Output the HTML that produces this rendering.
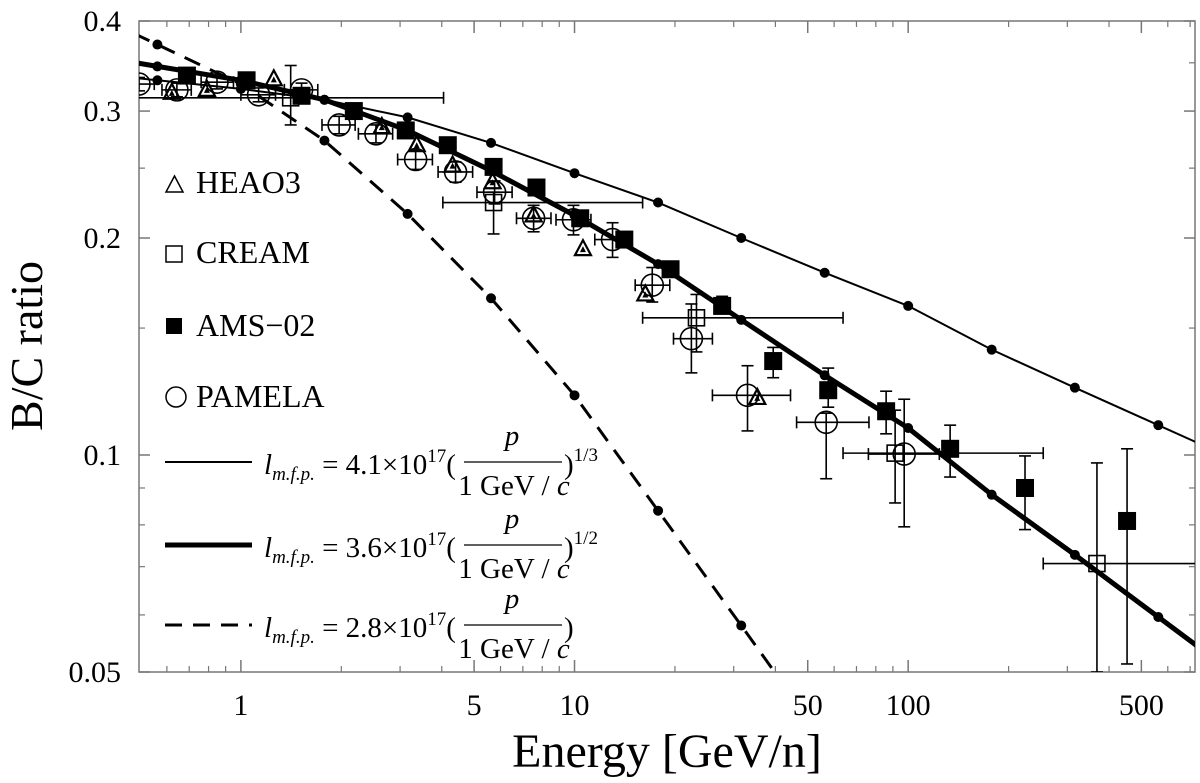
<!DOCTYPE html>
<html><head><meta charset="utf-8">
<style>
html,body{margin:0;padding:0;background:#fff;overflow:hidden;width:1200px;height:783px;}
svg{display:block;font-family:"Liberation Serif",serif;}
</style></head>
<body>
<svg id="chart" width="1200" height="783" viewBox="0 0 1200 783" xmlns="http://www.w3.org/2000/svg">
<defs><clipPath id="plotclip"><rect x="139" y="21" width="1056" height="651"/></clipPath></defs>
<rect x="139" y="21" width="1056" height="651" fill="none" stroke="#777" stroke-width="1.5"/>
<g id="ticks"></g>
<g id="curves" clip-path="url(#plotclip)"></g>
<g id="points" clip-path="url(#plotclip)"></g>
<g id="labels" font-size="30"></g>
<text x="667" y="767" font-size="48" text-anchor="middle">Energy [GeV/n]</text>
<text transform="translate(42,346) rotate(-90)" font-size="46" text-anchor="middle">B/C ratio</text>
<g font-size="32">
 <g>
  <polygon points="166,192 183,192 174.5,176" fill="none" stroke="#000" stroke-width="1.5"/>
  <text x="196" y="193">HEAO3</text></g>
 <g>
  <rect x="166" y="246" width="16" height="16" fill="none" stroke="#000" stroke-width="1.5"/>
  <text x="196" y="263">CREAM</text></g>
 <g>
  <rect x="166" y="318" width="16" height="16" fill="#000"/>
  <text x="196" y="336">AMS−02</text></g>
 <g>
  <circle cx="176" cy="397" r="10" fill="none" stroke="#000" stroke-width="1.5"/>
  <text x="196" y="407">PAMELA</text></g>
</g>
<g id="formulas"></g>
</svg>
<script>
// axis ranges
const xMin=0.495, xMax=724, yMin=0.05, yMax=0.4;
const L=139,R=1195,T=21,B=672;
// model curves sampled at E = 10^(k/4), k=-1..11
const modelEnergy=[0.562,1,1.78,3.16,5.62,10,17.8,31.6,56.2,100,178,316,562];
const curveThin=[0.331,0.322,0.311,0.294,0.271,0.246,0.224,0.200,0.179,0.161,0.140,0.124,0.110];
const curveThick=[0.346,0.331,0.311,0.282,0.248,0.215,0.184,0.154,0.129,0.109,0.0881,0.0727,0.0596];
const curveDashed=[0.371,0.327,0.273,0.216,0.165,0.121,0.0837,0.058,0.040,0.028,0.02,0.015,0.011];
// AMS-02
const amsE=[0.689,1.04,1.52,2.18,3.12,4.17,5.72,7.69,10.4,14.1,19.4,27.7,39.4,57.6,85.9,133.6,224,453];
const amsV=[0.336,0.331,0.315,0.300,0.282,0.269,0.251,0.235,0.213,0.199,0.181,0.161,0.135,0.123,0.115,0.102,0.090,0.081];
const amsLo=[0.331,0.326,0.310,0.295,0.277,0.264,0.246,0.230,0.209,0.195,0.177,0.157,0.128,0.1165,0.107,0.0932,0.0788,0.0513];
const amsHi=[0.341,0.336,0.320,0.305,0.287,0.274,0.256,0.240,0.217,0.203,0.185,0.166,0.141,0.132,0.1226,0.110,0.0997,0.102];
// HEAO3
const heaoE=[0.621,0.791,1.255,2.645,3.365,4.31,5.68,7.54,10.6,16.3,35.3];
const heaoV=[0.318,0.321,0.332,0.285,0.269,0.252,0.239,0.215,0.193,0.167,0.120];
// CREAM
const creamE=[1.41,5.72,23.2,91.4,368];
const creamV=[0.313,0.224,0.155,0.1006,0.0707];
const creamLo=[0.287,0.2026,0.139,0.0858,0.05];
const creamHi=[0.347,0.2315,0.167,0.1154,0.0975];
const creamELo=[0.45,4.03,16.0,63.8,254];
const creamEHi=[4.05,16.0,63.8,254,800];
// PAMELA
const pamE=[0.495,0.643,0.848,1.13,1.52,1.97,2.54,3.34,4.40,5.76,7.54,9.93,13.0,17.1,22.4,33.0,56.8,97.3];
const pamV=[0.327,0.321,0.329,0.316,0.321,0.287,0.279,0.257,0.247,0.2315,0.213,0.212,0.199,0.172,0.145,0.121,0.111,0.1003];
const pamLo=[0.320,0.314,0.322,0.309,0.314,0.279,0.271,0.249,0.239,0.223,0.204,0.202,0.188,0.163,0.130,0.108,0.0927,0.0795];
const pamHi=[0.334,0.328,0.336,0.323,0.328,0.295,0.287,0.265,0.255,0.240,0.222,0.222,0.210,0.182,0.162,0.133,0.1143,0.1195];
const pamELo=[0.44,0.58,0.76,1.0,1.35,1.75,2.25,2.95,3.9,5.1,6.7,8.8,11.5,15.2,19.8,25.9,46.3,76];
const pamEHi=[0.55,0.71,0.95,1.27,1.7,2.2,2.85,3.75,4.95,6.5,8.5,11.2,14.7,19.3,25.9,44.4,76.3,124];
// ticks
const yTickVals=[0.05,0.1,0.2,0.3,0.4];
const yTickLabels=["0.05","0.1","0.2","0.3","0.4"];
const yMinorVals=[0.06,0.07,0.08,0.09,0.15,0.25,0.35];
const xTickVals=[1,5,10,50,100,500];
const xTickLabels=["1","5","10","50","100","500"];
const xMinorVals=[0.6,0.7,0.8,0.9,2,3,4,6,7,8,9,20,30,40,60,70,80,90,200,300,400,600,700];

const NS="http://www.w3.org/2000/svg";
function X(e){return L+(R-L)*(Math.log10(e)-Math.log10(xMin))/(Math.log10(xMax)-Math.log10(xMin));}
function Y(v){return B-(B-T)*(Math.log10(v)-Math.log10(yMin))/(Math.log10(yMax)-Math.log10(yMin));}
function mk(tag,attrs,parent){const el=document.createElementNS(NS,tag);for(const k in attrs)el.setAttribute(k,attrs[k]);parent.appendChild(el);return el;}

const ticks=document.getElementById('ticks');
const labels=document.getElementById('labels');
yTickVals.forEach((v,i)=>{
  const y=Y(v);
  const t1=mk('line',{x1:L,x2:L+11,y1:y,y2:y,stroke:'#777','stroke-width':1.5},ticks);
  
  
  const t2=mk('line',{x1:R-11,x2:R,y1:y,y2:y,stroke:'#777','stroke-width':1.5},ticks);
  
  
  const tx=mk('text',{x:121,y:y+10,'text-anchor':'end'},labels);
  tx.textContent=yTickLabels[i];
  
  
});
yMinorVals.forEach(v=>{
  const y=Y(v);
  const t=mk('line',{x1:L,x2:L+6,y1:y,y2:y,stroke:'#777','stroke-width':1.2},ticks);
  
  
  const t2=mk('line',{x1:R-6,x2:R,y1:y,y2:y,stroke:'#777','stroke-width':1.2},ticks);
  
  
});
xTickVals.forEach((e,i)=>{
  const x=X(e);
  const t1=mk('line',{x1:x,x2:x,y1:B,y2:B-12,stroke:'#777','stroke-width':1.5},ticks);
  
  
  const t2=mk('line',{x1:x,x2:x,y1:T,y2:T+12,stroke:'#777','stroke-width':1.5},ticks);
  
  
  const tx=mk('text',{x:x,y:715,'text-anchor':'middle'},labels);
  tx.textContent=xTickLabels[i];
  
  
});
xMinorVals.forEach(e=>{
  const x=X(e);
  const t=mk('line',{x1:x,x2:x,y1:B,y2:B-6,stroke:'#777','stroke-width':1.2},ticks);
  
  
  const t2=mk('line',{x1:x,x2:x,y1:T,y2:T+6,stroke:'#777','stroke-width':1.2},ticks);
  
  
});

const curves=document.getElementById('curves');
function drawCurve(vals,width,dash,name){
  const pts=modelEnergy.map((e,i)=>[X(e),Y(vals[i])]);
  const a=pts[0],b=pts[1];const s=(b[1]-a[1])/(b[0]-a[0]);
  pts.unshift([L-5,a[1]+s*(L-5-a[0])]);
  const n=pts.length,c=pts[n-2],d=pts[n-1];const s2=(d[1]-c[1])/(d[0]-c[0]);
  pts.push([R+5,d[1]+s2*(R+5-d[0])]);
  const p=mk('polyline',{points:pts.map(q=>q.join(',')).join(' '),fill:'none',stroke:'#000','stroke-width':width,'stroke-dasharray':dash||'none'},curves);
  
  
  modelEnergy.forEach((e,i)=>{
    const c=mk('circle',{cx:X(e),cy:Y(vals[i]),r:5,fill:'#000'},curves);
    
    
  });
}
drawCurve(curveThin,2,null,'curve-one-third');
drawCurve(curveThick,5,null,'curve-one-half');
drawCurve(curveDashed,3,'17,11','curve-linear');

const pg=document.getElementById('points');
function vbar(x,y1,y2,name){
  const l=mk('line',{x1:x,x2:x,y1:y1,y2:y2,stroke:'#000','stroke-width':1.6},pg);
  
  
  [y1,y2].forEach(y=>{const c=mk('line',{x1:x-6,x2:x+6,y1:y,y2:y,stroke:'#000','stroke-width':1.6},pg);
    
    });
}
function hbar(y,x1,x2,name){
  const l=mk('line',{x1:x1,x2:x2,y1:y,y2:y,stroke:'#000','stroke-width':1.6},pg);
  
  
  [x1,x2].forEach(x=>{const c=mk('line',{x1:x,x2:x,y1:y-6,y2:y+6,stroke:'#000','stroke-width':1.6},pg);
    
    });
}
creamE.forEach((e,i)=>{
  const x=X(e),y=Y(creamV[i]);
  vbar(x,Y(creamHi[i]),Y(creamLo[i]),'cream-y-error');
  hbar(y,X(creamELo[i]),X(creamEHi[i]),'cream-x-error');
  const r=mk('rect',{x:x-8,y:y-8,width:16,height:16,fill:'none',stroke:'#000','stroke-width':1.6},pg);
  
  
});
pamE.forEach((e,i)=>{
  const x=X(e),y=Y(pamV[i]);
  vbar(x,Y(pamHi[i]),Y(pamLo[i]),'pamela-y-error');
  hbar(y,X(pamELo[i]),X(pamEHi[i]),'pamela-x-error');
  const c=mk('circle',{cx:x,cy:y,r:11,fill:'none',stroke:'#000','stroke-width':1.6},pg);
  
  
});
heaoE.forEach((e,i)=>{
  const x=X(e),y=Y(heaoV[i]);
  const t=mk('polygon',{points:`${x-8},${y+6} ${x+8},${y+6} ${x},${y-9}`,fill:'none',stroke:'#000','stroke-width':2.2},pg);
  
  
  const t2=mk('polygon',{points:`${x-3},${y+3} ${x+3},${y+3} ${x},${y-3}`,fill:'#000'},pg);
  
  
});
amsE.forEach((e,i)=>{
  const x=X(e),y=Y(amsV[i]);
  vbar(x,Y(amsHi[i]),Y(amsLo[i]),'ams02-y-error');
  const r=mk('rect',{x:x-9,y:y-9,width:18,height:18,fill:'#000'},pg);
  
  
});

const fg=document.getElementById('formulas');
const rows=[{y:462,w:2,dash:'none',coef:'4.1',exp:'1/3',name:'legend-entry-one-third'},
            {y:545,w:5,dash:'none',coef:'3.6',exp:'1/2',name:'legend-entry-one-half'},
            {y:625,w:3,dash:'17,11',coef:'2.8',exp:'',name:'legend-entry-linear'}];
rows.forEach(r=>{
  const g=mk('g',{},fg);
  
  
  const ln=mk('line',{x1:165,x2:252,y1:r.y,y2:r.y,stroke:'#000','stroke-width':r.w,'stroke-dasharray':r.dash},g);
  
  
  const t=mk('text',{x:264,y:r.y+12,'font-size':29},g);
  t.innerHTML=`<tspan font-style="italic">l</tspan><tspan font-size="19" font-style="italic" dy="6">m.f.p.</tspan><tspan dy="-6"> = ${r.coef}×10</tspan><tspan font-size="19" dy="-12">17</tspan><tspan dy="12">(</tspan>`;
  
  
  const bar=mk('line',{x1:464,x2:562,y1:r.y,y2:r.y,stroke:'#000','stroke-width':1.3},g);
  
  
  const p=mk('text',{x:512,y:r.y-17,'font-size':29,'font-style':'italic','text-anchor':'middle'},g);
  p.textContent='p';
  
  
  const d=mk('text',{x:514,y:r.y+33,'font-size':29,'text-anchor':'middle'},g);
  d.innerHTML='1 GeV / <tspan font-style="italic">c</tspan>';
  
  
  const cp=mk('text',{x:564,y:r.y+12,'font-size':29},g);
  cp.innerHTML=')'+(r.exp?`<tspan font-size="19" dy="-13">${r.exp}</tspan>`:'');
  
  
});
</script>
</body></html>
